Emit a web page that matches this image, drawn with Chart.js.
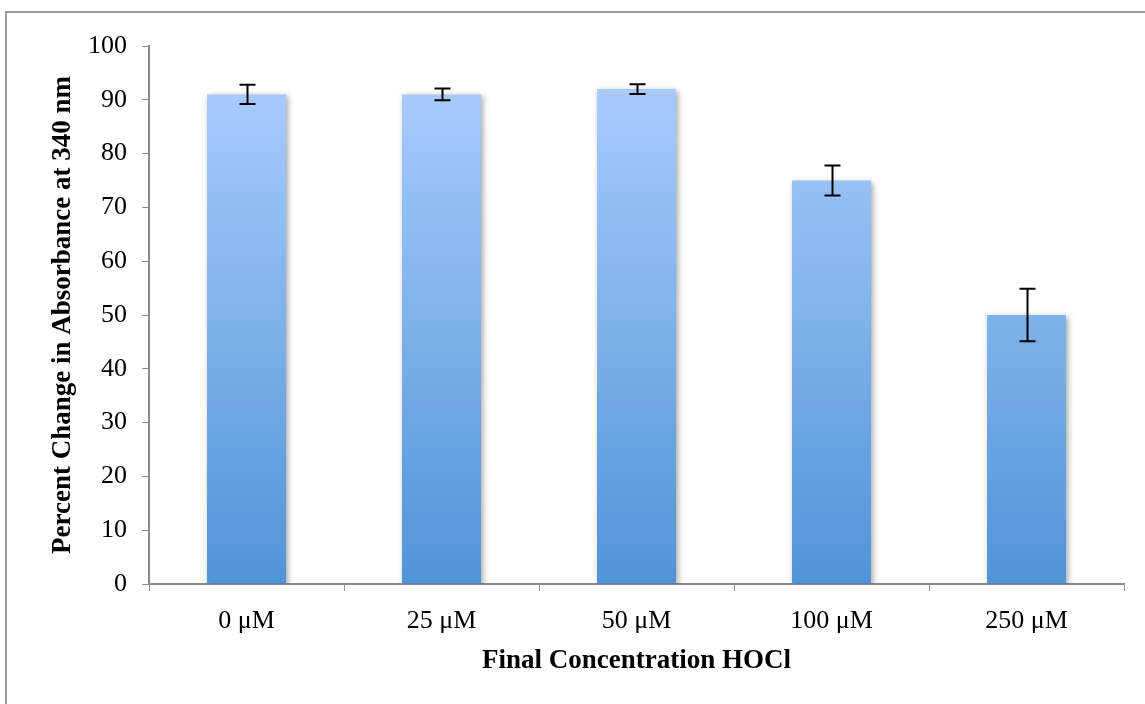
<!DOCTYPE html>
<html><head><meta charset="utf-8">
<script src="https://cdn.jsdelivr.net/npm/chart.js@4/dist/chart.umd.min.js"></script>
<style>html,body{margin:0;padding:0;background:#fff}#wrap{width:1145px;height:704px;position:relative}
#frame{position:absolute;left:5px;top:11px;width:1200px;height:800px;border-top:2px solid #9a9a9a;border-left:2px solid #9a9a9a;box-sizing:border-box}
canvas{position:absolute;left:0;top:0}</style>
</head><body><div id="wrap"><div id="frame"></div><canvas id="c" width="1145" height="704"></canvas></div>
<script>
const categories = ['0 μM','25 μM','50 μM','100 μM','250 μM'];
const values = [91, 91, 92, 75, 50];
const errors = [1.8, 1.1, 0.9, 2.8, 4.9];
const yTicks = [0,10,20,30,40,50,60,70,80,90,100];
const yTitle = 'Percent Change in Absorbance at 340 nm';
const xTitle = 'Final Concentration HOCl';

const errorBars = {
  id:'errorBars',
  afterDatasetsDraw(chart){
    const ctx = chart.ctx, y = chart.scales.y;
    const meta = chart.getDatasetMeta(0);
    ctx.save(); ctx.strokeStyle='#000'; ctx.lineWidth=2;
    meta.data.forEach((bar,i)=>{
      const x = Math.round(bar.x)+0.5, top = y.getPixelForValue(values[i]+errors[i]), bot = y.getPixelForValue(values[i]-errors[i]);
      ctx.beginPath();
      ctx.moveTo(x,top); ctx.lineTo(x,bot);
      ctx.moveTo(x-8,top); ctx.lineTo(x+8,top);
      ctx.moveTo(x-8,bot); ctx.lineTo(x+8,bot);
      ctx.stroke();
    });
    ctx.restore();
  }
};
const shadow = {
  id:'shadow',
  beforeDatasetsDraw(chart){ const c=chart.ctx; c.save(); c.shadowColor='rgba(0,0,0,0.35)'; c.shadowBlur=6; c.shadowOffsetX=2; c.shadowOffsetY=2; },
  afterDatasetsDraw(chart){ chart.ctx.restore(); }
};
const ctx = document.getElementById('c').getContext('2d');
new Chart(ctx,{
  type:'bar',
  data:{labels:categories,datasets:[{data:values,
    backgroundColor:(c)=>{const a=c.chart.chartArea; if(!a) return '#7fb0ea';
      const g=c.chart.ctx.createLinearGradient(0,c.chart.scales.y.getPixelForValue(100),0,a.bottom);
      g.addColorStop(0,'#b0d0ff'); g.addColorStop(1,'#4f94d8'); return g;},
    barPercentage:0.405, categoryPercentage:1}]},
  options:{responsive:false,animation:false,devicePixelRatio:1,
    layout:{padding:{left:43,right:21,top:46,bottom:23}},
    plugins:{legend:{display:false},tooltip:{enabled:false}},
    scales:{
      x:{grid:{drawOnChartArea:false,tickLength:7,color:'#8c8c8c',offset:true},border:{color:'#8c8c8c',width:2},
         ticks:{color:'#000',font:{family:'Liberation Serif',size:26},padding:15},
         title:{display:true,text:xTitle,color:'#000',font:{family:'Liberation Serif',size:27,weight:'bold'},padding:{top:8}},
         afterFit(s){s.height=97;}},
      y:{min:0,max:100,afterBuildTicks(s){s.ticks=yTicks.map(v=>({value:v}));},
         grid:{drawOnChartArea:false,tickLength:7,color:'#8c8c8c'},border:{color:'#8c8c8c',width:2},
         ticks:{color:'#000',font:{family:'Liberation Serif',size:26},padding:15},
         title:{display:true,text:yTitle,color:'#000',font:{family:'Liberation Serif',size:27,weight:'bold'},padding:{bottom:0}},
         afterFit(s){s.width=106;}}
    }},
  plugins:[shadow,errorBars]
});
</script></body></html>
